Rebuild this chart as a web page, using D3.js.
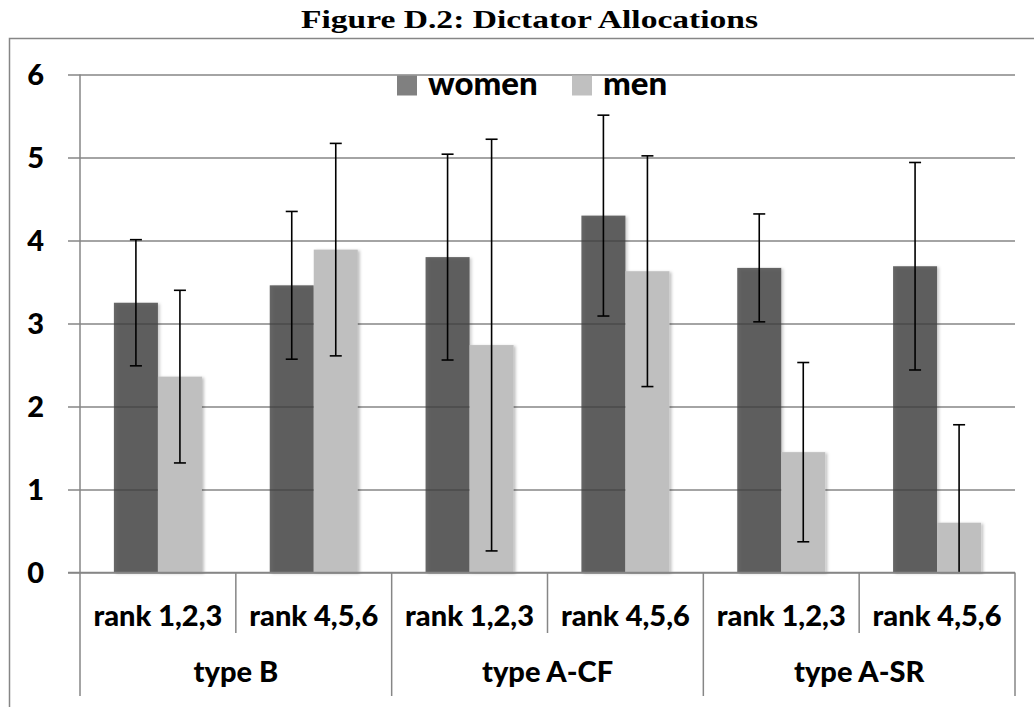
<!DOCTYPE html>
<html>
<head>
<meta charset="utf-8">
<script src="https://cdn.jsdelivr.net/npm/d3@7"></script>
<style>
  html, body { margin: 0; padding: 0; background: #fff; }
  svg { display: block; }
</style>
</head>
<body>
<svg id="chart" width="1034" height="707"></svg>
<script>
// ---- data ----
const title = "Figure D.2: Dictator Allocations";
const groups = ["type B", "type A-CF", "type A-SR"];
const ranks = ["rank 1,2,3", "rank 4,5,6"];
const seriesNames = ["women", "men"];
const women = [3.25, 3.46, 3.80, 4.30, 3.67, 3.69];
const men = [2.36, 3.89, 2.74, 3.63, 1.45, 0.60];
const womenErr = [0.76, 0.89, 1.24, 1.21, 0.65, 1.25];
const menErr = [1.04, 1.28, 2.48, 1.39, 1.08, 1.18];
const yTicks = [0, 1, 2, 3, 4, 5, 6];

(function () {
// ---- build table ----
const cats = [];
groups.forEach((g, gi) => ranks.forEach((r, ri) => cats.push({ id: g + "|" + r, group: g, rank: r, i: gi * ranks.length + ri })));
const values = { women: women, men: men };
const errs = { women: womenErr, men: menErr };

const svg = d3.select("#chart");
const pLeft = 80, pRight = 1015, pTop = 74.5, pBottom = 572.5;

const x0 = d3.scaleBand().domain(cats.map(d => d.id)).range([pLeft, pRight]).padding(0);
const x1 = d3.scaleBand().domain(seriesNames).range([0, x0.bandwidth()]).paddingInner(0).paddingOuter(0.77);
const xg = d3.scaleBand().domain(groups).range([pLeft, pRight]).padding(0);
const y = d3.scaleLinear().domain([0, 6]).range([pBottom, pTop]);

const grid = "#868686";

// outer border
svg.append("rect").attr("x", 9.5).attr("y", 38.5).attr("width", 1040).attr("height", 700)
  .attr("fill", "none").attr("stroke", grid).attr("stroke-width", 1.5);

// title
svg.append("text").attr("x", 529.5).attr("y", 28).attr("text-anchor", "middle")
  .attr("font-family", "'Liberation Serif', serif").attr("font-weight", "bold").attr("font-size", 26)
  .attr("textLength", 457).attr("lengthAdjust", "spacingAndGlyphs")
  .attr("fill", "#000").text(title);

// shadow filter
const defs = svg.append("defs");
const f = defs.append("filter").attr("id", "sh").attr("x", "-20%").attr("y", "-5%").attr("width", "140%").attr("height", "110%");
f.append("feDropShadow").attr("dx", 2).attr("dy", 1).attr("stdDeviation", 1.5).attr("flood-color", "#000").attr("flood-opacity", 0.25);

// gridlines via axis
const yAxis = d3.axisRight(y).tickValues(yTicks).tickSize(pRight - pLeft + 12).tickFormat(d3.format("d")).tickPadding(0);
const ga = svg.append("g").attr("transform", `translate(${pLeft - 12},0)`).call(yAxis);
ga.select(".domain").remove();
ga.selectAll(".tick line").attr("stroke", grid).attr("stroke-width", 1.5);
ga.selectAll(".tick text").attr("x", -24).attr("dy", "0.36em").attr("text-anchor", "end")
  .attr("font-family", "Lato, sans-serif").attr("font-weight", "900").attr("font-size", 29).attr("fill", "#000");

// y axis line
svg.append("line").attr("x1", pLeft).attr("x2", pLeft).attr("y1", pTop).attr("y2", 696)
  .attr("stroke", grid).attr("stroke-width", 1.5);

// bars
const barFill = { women: "#404040", men: "#bfbfbf" };
const barOpacity = { women: 0.79, men: 1 };
const barG = svg.append("g");
seriesNames.forEach(s => {
  barG.selectAll(".bar-" + s).data(cats).enter().append("rect")
    .attr("class", "bar-" + s)
    .attr("x", d => x0(d.id) + x1(s))
    .attr("y", d => y(values[s][d.i]))
    .attr("width", x1.bandwidth())
    .attr("height", d => y(0) - y(values[s][d.i]))
    .attr("fill", barFill[s]).attr("fill-opacity", barOpacity[s])
    .attr("filter", "url(#sh)");
});

// error bars
const errG = svg.append("g").attr("stroke", "#000").attr("stroke-width", 1.6);
seriesNames.forEach(s => {
  cats.forEach(d => {
    const cx = x0(d.id) + x1(s) + x1.bandwidth() / 2;
    const v = values[s][d.i], e = errs[s][d.i];
    const lo = Math.max(0, v - e), hi = v + e;
    errG.append("line").attr("x1", cx).attr("x2", cx).attr("y1", y(hi)).attr("y2", y(lo));
    errG.append("line").attr("x1", cx - 6).attr("x2", cx + 6).attr("y1", y(hi)).attr("y2", y(hi));
    if (v - e >= 0) errG.append("line").attr("x1", cx - 6).attr("x2", cx + 6).attr("y1", y(lo)).attr("y2", y(lo));
  });
});

// x axis line
svg.append("line").attr("x1", pLeft - 12).attr("x2", pRight).attr("y1", y(0)).attr("y2", y(0))
  .attr("stroke", grid).attr("stroke-width", 1.5);

// category dividers
cats.forEach(d => {
  const xx = x0(d.id);
  if (d.i % ranks.length !== 0) {
    svg.append("line").attr("x1", xx).attr("x2", xx).attr("y1", y(0)).attr("y2", 633).attr("stroke", grid).attr("stroke-width", 1.5);
  }
});
groups.forEach(g => {
  const xx = xg(g) + xg.bandwidth();
  svg.append("line").attr("x1", xx).attr("x2", xx).attr("y1", y(0)).attr("y2", 696).attr("stroke", grid).attr("stroke-width", 1.5);
});

// category labels
svg.append("g").selectAll("text").data(cats).enter().append("text")
  .attr("x", d => x0(d.id) + x0.bandwidth() / 2).attr("y", 626)
  .attr("text-anchor", "middle").attr("font-family", "Lato, sans-serif").attr("font-weight", "900")
  .attr("font-size", 29).attr("fill", "#000").text(d => d.rank);

svg.append("g").selectAll("text").data(groups).enter().append("text")
  .attr("x", d => xg(d) + xg.bandwidth() / 2).attr("y", 682)
  .attr("text-anchor", "middle").attr("font-family", "Lato, sans-serif").attr("font-weight", "900")
  .attr("font-size", 29).attr("fill", "#000").text(d => d);

// legend
const legendSw = { women: "#808080", men: "#c0c0c0" };
const legendX = { women: 397, men: 572 };
seriesNames.forEach(s => {
  svg.append("rect").attr("x", legendX[s]).attr("y", 75.5).attr("width", 20).attr("height", 20).attr("fill", legendSw[s]);
  svg.append("text").attr("x", legendX[s] + 31).attr("y", 94.5)
    .attr("font-family", "Lato, sans-serif").attr("font-weight", "900").attr("font-size", 33)
    .attr("fill", "#000").text(s);
});
})();
</script>
</body>
</html>
